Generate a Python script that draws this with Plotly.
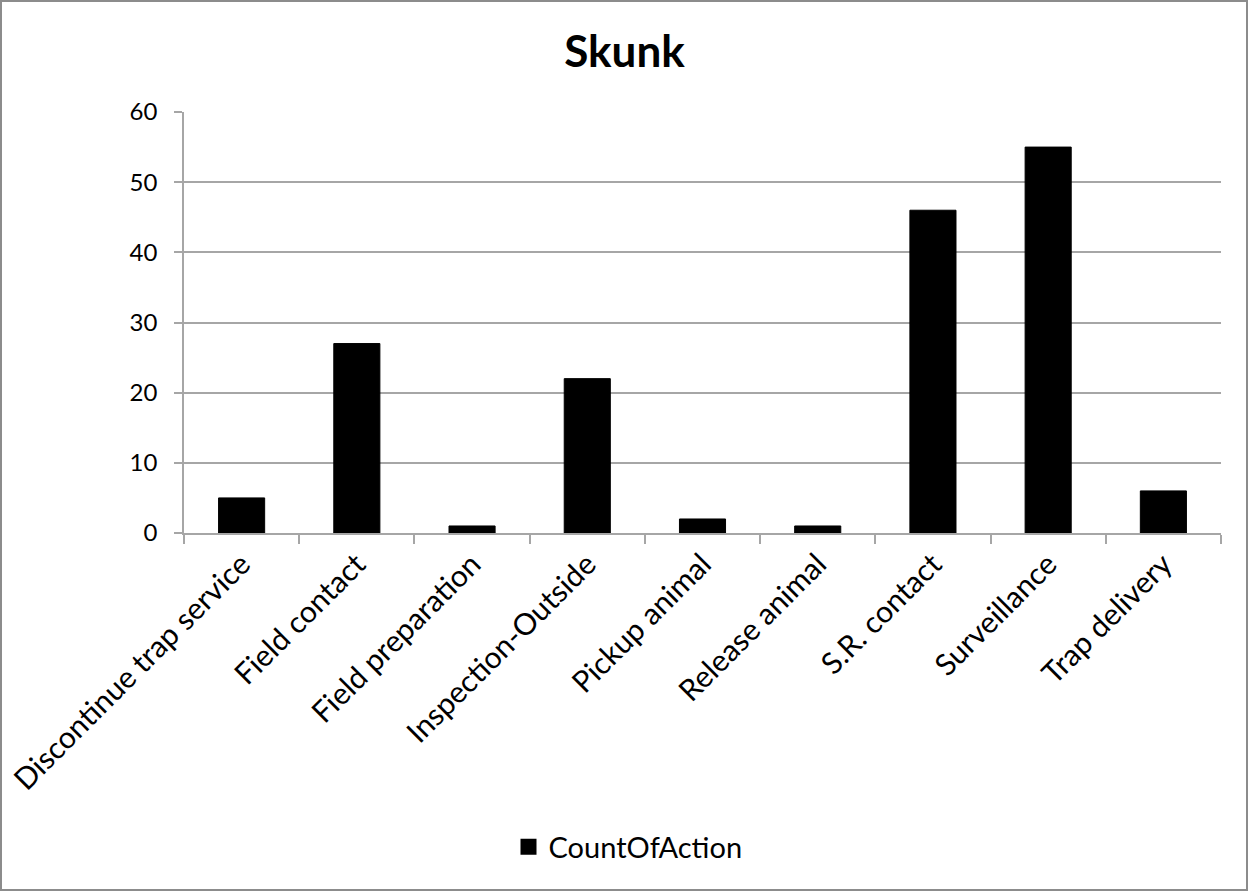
import plotly.graph_objects as go

categories = [
    "Discontinue trap service", "Field contact", "Field preparation",
    "Inspection-Outside", "Pickup animal", "Release animal",
    "S.R. contact", "Surveillance", "Trap delivery",
]
count_of_action = [5, 27, 1, 22, 2, 1, 46, 55, 6]
y_ticks = [0, 10, 20, 30, 40, 50, 60]
series_name = "CountOfAction"

W, H = 1249, 892
ML, MR, MT, MB = 184, 28, 112, 359
pw, ph = W - ML - MR, H - MT - MB

FONT = "Lato, 'Open Sans', sans-serif"
GRID = "#a6a6a6"

fig = go.Figure()
fig.add_trace(go.Bar(
    x=categories, y=count_of_action, name=series_name,
    marker=dict(color="#000000", line=dict(color="#000000", width=1)),
    showlegend=False, legendgroup="s",
))
# Legend entry with a larger square key
fig.add_trace(go.Scatter(
    x=[None], y=[None], mode="markers", name=series_name,
    marker=dict(symbol="square", size=18, color="#000000"),
    legendgroup="s", showlegend=True, hoverinfo="skip",
))

fig.update_layout(
    width=W, height=H,
    margin=dict(l=ML, r=MR, t=MT, b=MB, pad=0, autoexpand=False),
    paper_bgcolor="white", plot_bgcolor="white",
    bargap=0.6,
    showlegend=True,
    title=dict(text="<b>Skunk</b>", x=0.5, xanchor="center",
               y=1 - 52 / H, yanchor="middle",
               font=dict(family=FONT, size=44, color="#000000")),
    legend=dict(orientation="h", x=(628 - ML) / pw, xanchor="center",
                y=-(847 - (H - MB)) / ph, yanchor="middle",
                font=dict(family=FONT, size=29, color="#000000"),
                itemwidth=30, bgcolor="rgba(0,0,0,0)"),
    xaxis=dict(
        type="category", tickson="boundaries", ticks="outside",
        ticklen=9, tickcolor=GRID, tickwidth=1.5,
        showline=True, linecolor=GRID, linewidth=1.5,
        tickangle=-45, showgrid=False, automargin=False,
        tickfont=dict(family=FONT, size=30, color="#000000"),
    ),
    yaxis=dict(
        range=[0, 60], tickvals=y_ticks, ticks="outside", ticklen=8,
        tickcolor=GRID, tickwidth=1.5,
        showline=True, linecolor=GRID, linewidth=1.5,
        showgrid=True, gridcolor=GRID, gridwidth=1.5, zeroline=False,
        ticklabelstandoff=12, automargin=False,
        tickfont=dict(family=FONT, size=24, color="#000000"),
    ),
)

# Thin gray frame around the whole chart area
fig.add_shape(
    type="rect", xref="paper", yref="paper",
    x0=-(ML - 1) / pw, x1=1 + (MR - 2) / pw,
    y0=-(MB - 2) / ph, y1=1 + (MT - 1) / ph,
    line=dict(color="#8c8c8c", width=2), fillcolor="rgba(0,0,0,0)",
    layer="below",
)

fig.write_html("out.html")
